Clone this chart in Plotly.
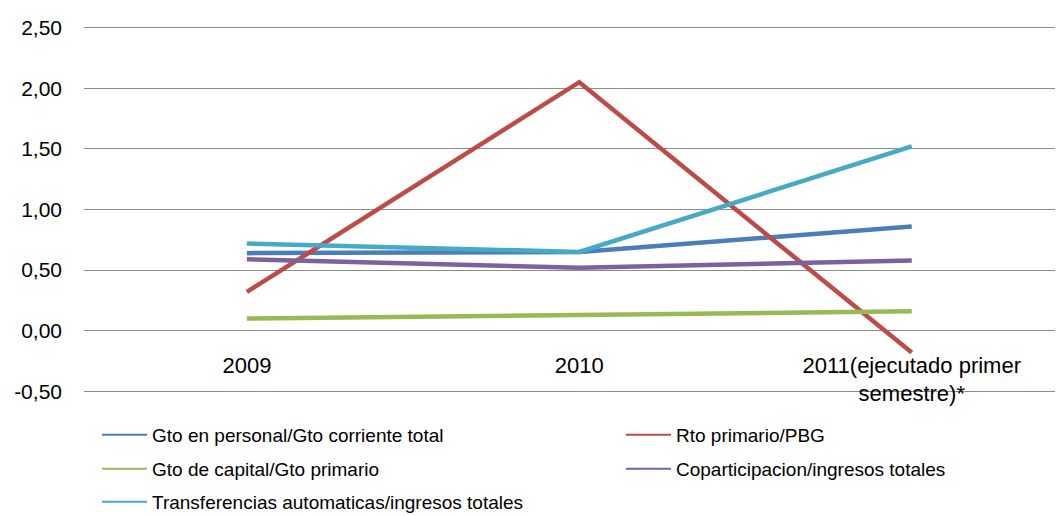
import plotly.graph_objects as go

categories = ["2009", "2010", "2011(ejecutado primer<br>semestre)*"]
personal = [0.64, 0.65, 0.86]
rto_primario = [0.32, 2.05, -0.18]
capital = [0.10, 0.13, 0.16]
coparticipacion = [0.59, 0.52, 0.58]
transferencias = [0.72, 0.65, 1.52]
y_ticks = [-0.5, 0, 0.5, 1.0, 1.5, 2.0, 2.5]
y_ticktext = ["-0,50", "0,00", "0,50", "1,00", "1,50", "2,00", "2,50"]

names = ["Gto en personal/Gto corriente total", "Rto primario/PBG",
         "Gto de capital/Gto primario", "Coparticipacion/ingresos totales",
         "Transferencias automaticas/ingresos totales"]
colors = ["#4A7EBB", "#BE4B48", "#98B954", "#7D60A0", "#46AAC5"]
series = [personal, rto_primario, capital, coparticipacion, transferencias]

# page body has an 8px margin, so the figure is sized to fit the window
OFF = 8
W, H = 1063 - OFF, 516 - OFF
PX_PER_UNIT = 121.2
y0, y1 = -0.53, 2.53
top_page = 28 - (y1 - 2.5) * PX_PER_UNIT
bot_page = 391.6 + (-0.5 - y0) * PX_PER_UNIT
L, R, T, B = 84 - OFF, 0, top_page - OFF, H - (bot_page - OFF)

fig = go.Figure()
xs = [0, 1, 2]
for s, n, c in zip(series, names, colors):
    fig.add_trace(go.Scatter(x=xs, y=s, mode="lines", line=dict(color=c, width=4.5),
                             showlegend=False, hoverinfo="skip"))

legend_pos = [(97, 435), (621, 435), (97, 469), (621, 469), (97, 502)]
legend_keys = ["legend", "legend2", "legend3", "legend4", "legend5"]
lfont = dict(family="Liberation Sans, Arial, sans-serif", size=19, color="#000000")
for n, c, key in zip(names, colors, legend_keys):
    fig.add_trace(go.Scatter(x=[None], y=[None], mode="lines", line=dict(color=c, width=2),
                             name=n, legend=key, showlegend=True))

layout_legends = {}
for key, (lx, ly) in zip(legend_keys, legend_pos):
    layout_legends[key] = dict(x=(lx - OFF) / W, y=1 - (ly - OFF) / H,
                               xref="container", yref="container",
                               xanchor="left", yanchor="middle", font=lfont,
                               bgcolor="rgba(0,0,0,0)", itemwidth=45, borderwidth=0)

zero_paper = (0 - y0) / (y1 - y0)

fig.update_layout(
    width=W, height=H,
    margin=dict(l=L, r=R, t=T, b=B, pad=0, autoexpand=False),
    plot_bgcolor="white", paper_bgcolor="white",
    font=dict(family="Liberation Sans, Arial, sans-serif", size=21, color="#000000"),
    xaxis=dict(range=[-0.49, 2.455], tickmode="array", tickvals=xs, ticktext=categories,
               showgrid=False, zeroline=False, showline=False, anchor="free",
               position=zero_paper, ticks="", ticklabelstandoff=19, automargin=False,
               tickfont=dict(size=22)),
    yaxis=dict(range=[y0, y1], tickmode="array", tickvals=y_ticks, ticktext=y_ticktext,
               showgrid=True, gridcolor="#8C8C8C", gridwidth=1, zeroline=False,
               showline=False, ticks="", ticklabelstandoff=21, automargin=False,
               tickfont=dict(size=21)),
    **layout_legends,
)

fig.write_html("out.html")
